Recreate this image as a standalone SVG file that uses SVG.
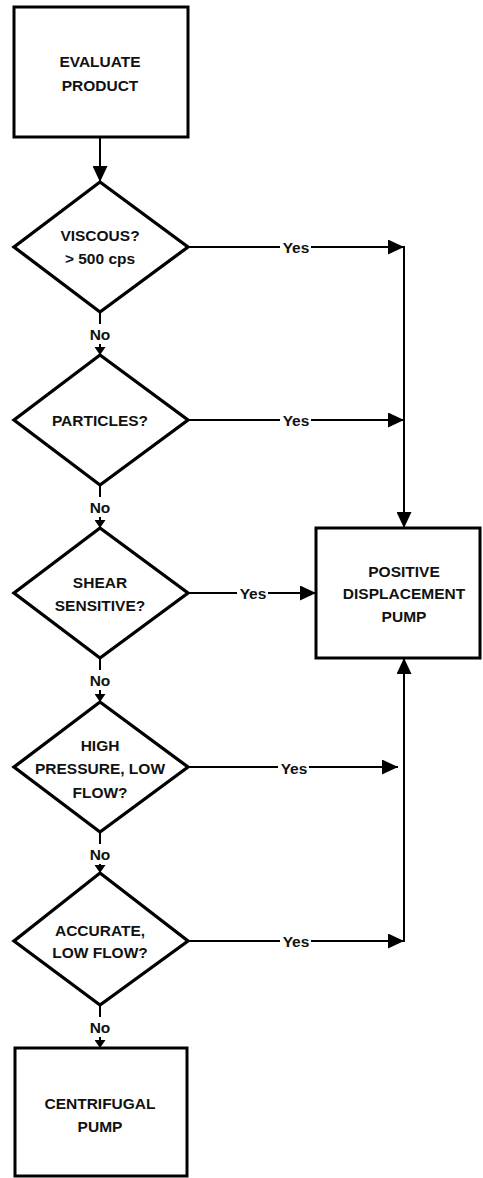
<svg xmlns="http://www.w3.org/2000/svg" width="483" height="1178" viewBox="0 0 483 1178">
<style>
.box{fill:#fff;stroke:#000;stroke-width:3}
.dia{fill:#fff;stroke:#000;stroke-width:3.3;stroke-linejoin:miter}
.t{font-family:"Liberation Sans",Arial,sans-serif;font-weight:bold;font-size:15.5px;fill:#111;text-anchor:middle}
.c{stroke:#000;stroke-width:2;fill:none}
.bg{fill:#fff}
</style>
<defs>
<marker id="ah" markerUnits="userSpaceOnUse" markerWidth="16" markerHeight="15" refX="16" refY="7.5" orient="auto"><path d="M0,0 L16,7.5 L0,15 z" fill="#000"/></marker>
<marker id="as" markerUnits="userSpaceOnUse" markerWidth="8" markerHeight="11" refX="8" refY="5.5" orient="auto"><path d="M0,0 L8,5.5 L0,11 z" fill="#000"/></marker>
</defs>
<rect width="483" height="1178" fill="#fff"/>
<g id="connectors">
<line class="c" x1="100" y1="137" x2="100" y2="182" marker-end="url(#ah)"/>
<line class="c" x1="100" y1="312" x2="100" y2="355" marker-end="url(#as)"/>
<line class="c" x1="100" y1="485" x2="100" y2="528" marker-end="url(#as)"/>
<line class="c" x1="100" y1="658" x2="100" y2="702" marker-end="url(#as)"/>
<line class="c" x1="100" y1="832" x2="100" y2="873" marker-end="url(#as)"/>
<line class="c" x1="100" y1="1005" x2="100" y2="1048" marker-end="url(#as)"/>
<line class="c" x1="188" y1="247" x2="404" y2="247" marker-end="url(#ah)"/>
<line class="c" x1="188" y1="420" x2="404" y2="420" marker-end="url(#ah)"/>
<line class="c" x1="188" y1="593" x2="316" y2="593" marker-end="url(#ah)"/>
<line class="c" x1="188" y1="767" x2="398" y2="767" marker-end="url(#ah)"/>
<line class="c" x1="188" y1="941" x2="404" y2="941" marker-end="url(#ah)"/>
<line class="c" x1="404" y1="246" x2="404" y2="528" marker-end="url(#ah)"/>
<line class="c" x1="404" y1="942" x2="404" y2="658" marker-end="url(#ah)"/>
<rect class="bg" x="280" y="239" width="31" height="16"/>
<text class="t" x="296" y="253">Yes</text>
<rect class="bg" x="280" y="412" width="31" height="16"/>
<text class="t" x="296" y="426">Yes</text>
<rect class="bg" x="237" y="585" width="31" height="16"/>
<text class="t" x="253" y="599">Yes</text>
<rect class="bg" x="278" y="759" width="31" height="16"/>
<text class="t" x="294" y="774">Yes</text>
<rect class="bg" x="280" y="933" width="31" height="16"/>
<text class="t" x="296" y="947">Yes</text>
<rect class="bg" x="88" y="324" width="24" height="20"/>
<text class="t" x="100" y="340">No</text>
<rect class="bg" x="88" y="497" width="24" height="20"/>
<text class="t" x="100" y="513">No</text>
<rect class="bg" x="88" y="670" width="24" height="20"/>
<text class="t" x="100" y="686">No</text>
<rect class="bg" x="88" y="844" width="24" height="20"/>
<text class="t" x="100" y="860">No</text>
<rect class="bg" x="88" y="1017" width="24" height="20"/>
<text class="t" x="100" y="1033">No</text>
</g>
<g id="evaluate">
<rect class="box" x="14" y="7" width="174" height="130"/>
<text class="t" x="100" y="67">EVALUATE</text>
<text class="t" x="100" y="91">PRODUCT</text>
</g>
<g id="viscous">
<polygon class="dia" points="100,182 188,247 100,312 14,247"/>
<text class="t" x="100" y="241">VISCOUS?</text>
<text class="t" x="100" y="264">&gt; 500 cps</text>
</g>
<g id="particles">
<polygon class="dia" points="100,355 188,420 100,485 14,420"/>
<text class="t" x="100" y="426">PARTICLES?</text>
</g>
<g id="shear">
<polygon class="dia" points="100,528 188,593 100,658 14,593"/>
<text class="t" x="100" y="588">SHEAR</text>
<text class="t" x="100" y="611">SENSITIVE?</text>
</g>
<g id="highpressure">
<polygon class="dia" points="100,702 188,767 100,832 14,767"/>
<text class="t" x="100" y="751">HIGH</text>
<text class="t" x="100" y="774">PRESSURE, LOW</text>
<text class="t" x="100" y="798">FLOW?</text>
</g>
<g id="accurate">
<polygon class="dia" points="100,873 188,941 100,1005 14,941"/>
<text class="t" x="100" y="936">ACCURATE,</text>
<text class="t" x="100" y="958">LOW FLOW?</text>
</g>
<g id="pdp">
<rect class="box" x="316" y="528" width="164" height="130"/>
<text class="t" x="404" y="577">POSITIVE</text>
<text class="t" x="404" y="599">DISPLACEMENT</text>
<text class="t" x="404" y="622">PUMP</text>
</g>
<g id="centrifugal">
<rect class="box" x="15" y="1048" width="172" height="128"/>
<text class="t" x="100" y="1109">CENTRIFUGAL</text>
<text class="t" x="100" y="1132">PUMP</text>
</g>
</svg>
